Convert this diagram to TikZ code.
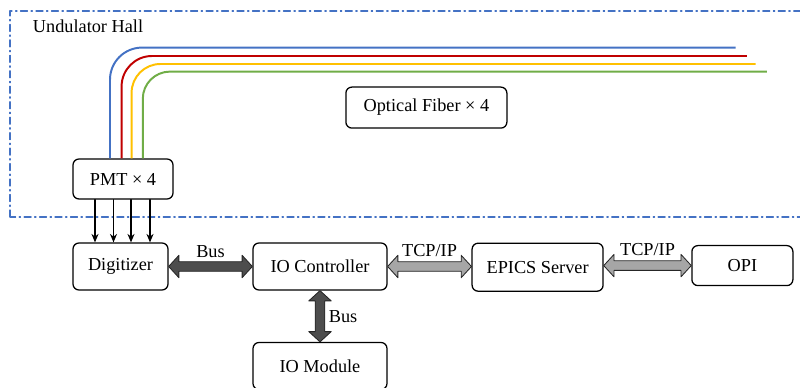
\documentclass[tikz,border=0pt]{standalone}
\usepackage{fontspec}
\setmainfont{Liberation Serif}
\usetikzlibrary{arrows.meta,calc,shapes.arrows}
\definecolor{hallblue}{RGB}{68,114,196}
\definecolor{fibblue}{RGB}{68,114,196}
\definecolor{fibred}{RGB}{192,0,0}
\definecolor{fibyellow}{RGB}{255,192,0}
\definecolor{fibgreen}{RGB}{112,173,71}
\definecolor{busgray}{RGB}{77,77,77}
\definecolor{netgray}{RGB}{166,166,166}

% fat double arrow between two points
\newcommand{\fatlink}[3]{%
  \path let \p1=(#2), \p2=(#3),
    \n1={veclen(\x2-\x1,\y2-\y1)}, \n2={atan2(\y2-\y1,\x2-\x1)} in
    node[#1, minimum height=\n1, rotate=\n2] at ($(\p1)!0.5!(\p2)$) {};}

\begin{document}
\begin{tikzpicture}[font=\fontsize{13}{15}\selectfont, >={Stealth[length=6pt,width=5pt]},
  line cap=round, line join=round,
  box/.style={draw, line width=0.9pt, rounded corners=0.15cm, inner sep=0pt},
  fiber/.style={line width=1.4pt, line cap=butt},
  fatarrow/.style={shape=double arrow, draw=black!85, line width=0.6pt,
    inner xsep=0pt, inner ysep=0.11cm, double arrow head extend=0.16cm,
    double arrow tip angle=95}]

\clip (0,0) rectangle (20,9.7);

% ---------- Undulator hall ----------
\draw[hallblue, line width=0.8pt, dash pattern=on 5pt off 2.5pt on 1pt off 2.5pt]
  (0.25,4.275) rectangle (20.3,9.425);
\node[anchor=west] (hall) at (0.7,9.05) {Undulator Hall};

% ---------- boxes ----------
\node[box, minimum width=2.5cm, minimum height=1cm] (pmt) at (3.075,5.225) {PMT × 4};
\node[box, minimum width=4.025cm, minimum height=1.025cm] (fib) at (10.66,7.01) {Optical Fiber × 4};
\node[box, minimum width=2.375cm, minimum height=1.175cm] (dig) at (3.0125,3.0375) {Digitizer};
\node[box, minimum width=3.35cm, minimum height=1.175cm] (ioc) at (8.0,3.0375) {IO Controller};
\node[box, minimum width=3.275cm, minimum height=1.2cm] (eps) at (13.44,3.02) {EPICS Server};
\node[box, minimum width=2.525cm, minimum height=1cm] (opi) at (18.56,3.06) {OPI};
\node[box, minimum width=3.35cm, minimum height=1.175cm] (iom) at (8.0,0.55) {IO Module};

% ---------- fibers ----------
\foreach \col/\x/\y/\e/\r in {fibblue/2.75/8.51/18.39/0.8, fibred/3.04/8.3/18.67/0.76,
    fibyellow/3.29/8.1/18.89/0.72, fibgreen/3.57/7.91/19.17/0.68}
  \draw[fiber, \col, rounded corners=\r cm] (\x,0 |- pmt.north) |- (\e,\y);

% PMT signals
\foreach \x in {2.375,2.8375,3.275,3.75}
  \draw[->, line width=0.8pt] (\x,0 |- pmt.south) -- (\x,0 |- dig.north);

% ---------- links ----------
\fatlink{fatarrow, fill=busgray}{dig.east}{ioc.west}
\fatlink{fatarrow, fill=netgray}{ioc.east}{eps.west |- ioc.east}
\fatlink{fatarrow, fill=netgray}{eps.east |- opi.west}{opi.west}
\fatlink{fatarrow, fill=busgray}{ioc.south}{iom.north}

\node[above=3pt] (busa) at ($(dig.east)!0.5!(ioc.west)$) {Bus};
\node[above=3.5pt] (tcpa) at ($(ioc.east)!0.5!(eps.west |- ioc.east)$) {TCP/IP};
\node[above=3.5pt] (tcpb) at ($(eps.east |- opi.west)!0.5!(opi.west)$) {TCP/IP};
\node[right=2.8pt] (busb) at ($(ioc.south)!0.5!(iom.north)$) {Bus};

\end{tikzpicture}
\end{document}
